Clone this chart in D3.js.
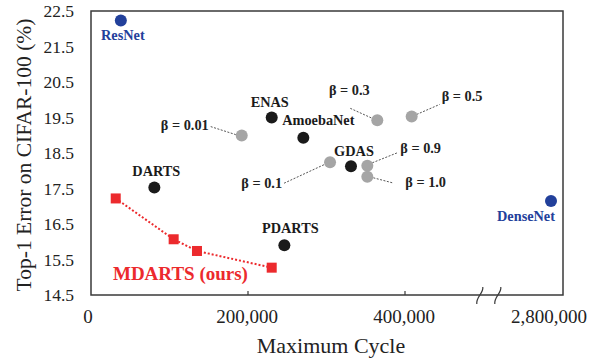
<!DOCTYPE html>
<html>
<head>
<meta charset="utf-8">
<script src="https://d3js.org/d3.v7.min.js"></script>
<style>
  body { margin: 0; background: #fff; }
  text { font-family: "Liberation Serif", "Times New Roman", serif; }
</style>
</head>
<body>
<svg width="596" height="360"></svg>
<script>
  // data
  const refNames = ['ResNet', 'DenseNet'];
  const refCycle = [38000, 2800000];
  const refError = [22.23, 17.15];

  const nasNames = ['DARTS', 'ENAS', 'AmoebaNet', 'GDAS', 'PDARTS'];
  const nasCycle = [80700, 230200, 270500, 331200, 246300];
  const nasError = [17.53, 19.5, 18.93, 18.13, 15.9];

  const betaNames = ['β = 0.01', 'β = 0.1', 'β = 0.3', 'β = 0.5', 'β = 0.9', 'β = 1.0'];
  const betaCycle = [192000, 304500, 364700, 408500, 352000, 352000];
  const betaError = [18.99, 18.24, 19.42, 19.53, 18.14, 17.83];

  const mdartsCycle = [31500, 105300, 135000, 230200];
  const mdartsError = [17.22, 16.07, 15.74, 15.27];

  const yTicks = [14.5, 15.5, 16.5, 17.5, 18.5, 19.5, 20.5, 21.5, 22.5];
  const xTicks = [0, 200000, 400000, 2800000];

  // label layout (offsets in px from the point)
  const labelPos = {
    'ResNet':    {dx: 2,   dy: 19,  anchor: 'middle'},
    'DenseNet':  {dx: -25, dy: 20,  anchor: 'middle'},
    'DARTS':     {dx: 2,   dy: -11, anchor: 'middle'},
    'ENAS':      {dx: -2,  dy: -11, anchor: 'middle'},
    'AmoebaNet': {dx: 15,  dy: -13, anchor: 'middle'},
    'GDAS':      {dx: 3,   dy: -10, anchor: 'middle'},
    'PDARTS':    {dx: 6,   dy: -12, anchor: 'middle'},
    'β = 0.01':  {dx: -33, dy: -6,  anchor: 'end',    lead: [-31, -9, -6, -1]},
    'β = 0.1':   {dx: -48, dy: 26,  anchor: 'end',    lead: [-46, 21, -5, 2]},
    'β = 0.3':   {dx: -28, dy: -25, anchor: 'middle', lead: [-27, -12, -5, -2]},
    'β = 0.5':   {dx: 30,  dy: -15, anchor: 'start',  lead: [5, -2, 28, -12]},
    'β = 0.9':   {dx: 33,  dy: -13, anchor: 'start',  lead: [5, -3, 30, -13]},
    'β = 1.0':   {dx: 38,  dy: 10,  anchor: 'start',  lead: [6, 1, 25, 6]}
  };

  const blue = '#22409b', black = '#1a1a1a', gray = '#a5a5a5', red = '#ec2a2d';

  const svg = d3.select('svg');
  const pLeft = 91, pRight = 563, pTop = 11, pBottom = 295;

  // broken x axis: linear up to 480k, then jump to the 2.8M column
  const x = d3.scaleLinear().domain([0, 480000, 2800000]).range([pLeft, pLeft + 157 * 2.4, 551]);
  const y = d3.scaleLinear().domain([14.5, 22.5]).range([pBottom, pTop]);

  // frame
  svg.append('rect')
    .attr('x', pLeft).attr('y', pTop)
    .attr('width', pRight - pLeft).attr('height', pBottom - pTop)
    .attr('fill', 'none').attr('stroke', '#3a3a3a').attr('stroke-width', 1.5);

  // y tick labels
  svg.append('g').selectAll('text')
    .data(yTicks).enter()
    .append('text')
    .attr('x', 74).attr('y', d => y(d))
    .attr('dy', '0.35em')
    .attr('text-anchor', 'end')
    .attr('font-size', 17.5)
    .attr('fill', '#222')
    .text(d => d.toFixed(1));

  // x ticks and labels
  svg.append('g').selectAll('line')
    .data(xTicks.filter(d => d > 0 && d < 1000000)).enter()
    .append('line')
    .attr('x1', d => x(d)).attr('x2', d => x(d))
    .attr('y1', pBottom).attr('y2', pBottom - 4)
    .attr('stroke', '#3a3a3a').attr('stroke-width', 1.2);
  svg.append('g').selectAll('text')
    .data(xTicks).enter()
    .append('text')
    .attr('x', d => d === 0 ? x(d) - 3 : (d > 1000000 ? x(d) - 2 : x(d) - 1))
    .attr('y', 323)
    .attr('text-anchor', 'middle')
    .attr('font-size', 19)
    .attr('fill', '#222')
    .text(d => d3.format(',')(d));

  // axis break marks, just past the end of the linear part
  const brk = [x(480000) + 12, x(480000) + 30];
  svg.append('g').selectAll('path')
    .data(brk).enter()
    .append('path')
    .attr('d', d => `M${d - 3},${pBottom + 9} C${d - 4},${pBottom + 2} ${d + 4},${pBottom - 2} ${d + 3},${pBottom - 8}`)
    .attr('fill', 'none').attr('stroke', '#3a3a3a').attr('stroke-width', 1.2);

  // axis titles
  svg.append('text')
    .attr('transform', 'translate(31,155) rotate(-90)')
    .attr('text-anchor', 'middle')
    .attr('font-size', 21.5)
    .attr('fill', '#222')
    .text('Top-1 Error on CIFAR-100 (%)');
  svg.append('text')
    .attr('x', 331).attr('y', 353)
    .attr('text-anchor', 'middle')
    .attr('font-size', 22)
    .attr('fill', '#222')
    .text('Maximum Cycle');

  // MDARTS dotted line + squares
  const md = mdartsCycle.map((c, i) => ({c: c, e: mdartsError[i]}));
  svg.append('path')
    .datum(md)
    .attr('d', d3.line().x(d => x(d.c)).y(d => y(d.e)))
    .attr('fill', 'none').attr('stroke', red)
    .attr('stroke-width', 2).attr('stroke-dasharray', '2,2');
  svg.append('g').selectAll('rect')
    .data(md).enter()
    .append('rect')
    .attr('x', d => x(d.c) - 5).attr('y', d => y(d.e) - 5)
    .attr('width', 10).attr('height', 10)
    .attr('fill', red);
  svg.append('text')
    .attr('x', x(28000)).attr('y', y(14.92))
    .attr('font-size', 19).attr('font-weight', 'bold')
    .attr('fill', red)
    .text('MDARTS (ours)');

  // generic point group
  function drawGroup(names, cycles, errors, color) {
    const pts = names.map((n, i) => ({name: n, c: cycles[i], e: errors[i]}));
    const g = svg.append('g');
    g.selectAll('line')
      .data(pts.filter(d => labelPos[d.name].lead)).enter()
      .append('line')
      .attr('x1', d => x(d.c) + labelPos[d.name].lead[0])
      .attr('y1', d => y(d.e) + labelPos[d.name].lead[1])
      .attr('x2', d => x(d.c) + labelPos[d.name].lead[2])
      .attr('y2', d => y(d.e) + labelPos[d.name].lead[3])
      .attr('stroke', '#555').attr('stroke-width', 1)
      .attr('stroke-dasharray', '2,1.5');
    g.selectAll('circle')
      .data(pts).enter()
      .append('circle')
      .attr('cx', d => x(d.c)).attr('cy', d => y(d.e))
      .attr('r', 6)
      .attr('fill', color);
    g.selectAll('text')
      .data(pts).enter()
      .append('text')
      .attr('x', d => x(d.c) + labelPos[d.name].dx)
      .attr('y', d => y(d.e) + labelPos[d.name].dy)
      .attr('text-anchor', d => labelPos[d.name].anchor)
      .attr('font-size', 14.3).attr('font-weight', 'bold')
      .attr('fill', color === gray ? '#222' : color)
      .text(d => d.name);
  }

  drawGroup(betaNames, betaCycle, betaError, gray);
  drawGroup(nasNames, nasCycle, nasError, black);
  drawGroup(refNames, refCycle, refError, blue);
</script>
</body>
</html>
